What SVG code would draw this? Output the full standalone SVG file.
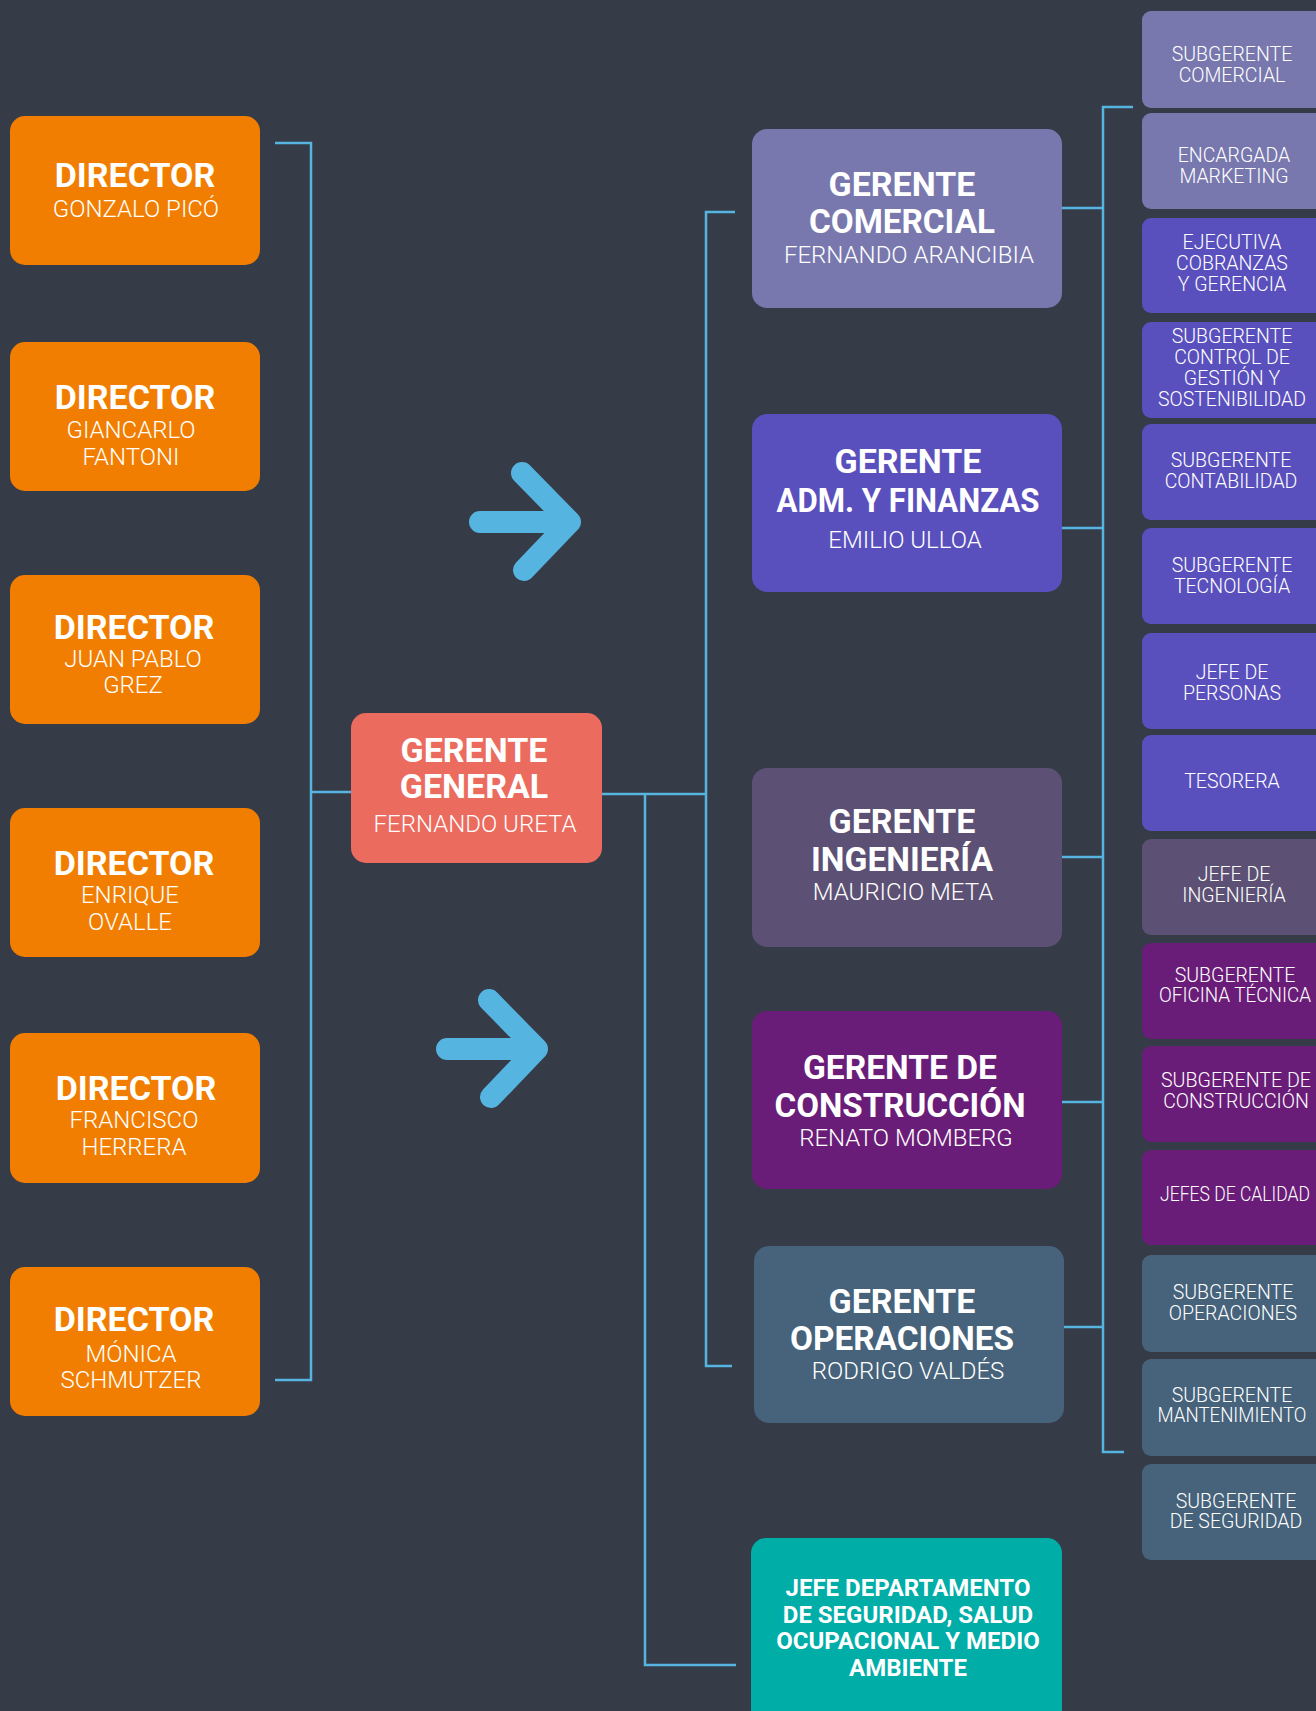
<svg xmlns="http://www.w3.org/2000/svg" width="1316" height="1711" viewBox="0 0 1316 1711">
<style>
.bg{fill:#353b47}
.dir{fill:#f17e00}
.t{fill:#fff;font-family:Roboto,"Liberation Sans",sans-serif;text-anchor:middle}
.b35{font-size:34px;font-weight:700}
.n24{font-size:24px;font-weight:300}
.s20{font-size:19.5px;font-weight:300}
.b24{font-size:24px;font-weight:700}
.ln{fill:none;stroke:#55b4e0;stroke-width:2.5}
.ar{fill:none;stroke:#55b4e0;stroke-width:22;stroke-linecap:round;stroke-linejoin:round}
.c1{fill:#7878ae}.c2{fill:#5a50bd}.c3{fill:#5c5174}.c4{fill:#6a1d78}.c5{fill:#46637b}
</style>
<rect class="bg" x="0" y="0" width="1316" height="1711"/>

<g id="connectors">
<polyline class="ln" points="275,143 311,143 311,1380 275,1380"/>
<line class="ln" x1="311" y1="792" x2="351" y2="792"/>
<polyline class="ln" points="602,794 706,794"/>
<polyline class="ln" points="735,212 706,212 706,1366 732,1366"/>
<polyline class="ln" points="645,794 645,1665 736,1665"/>
<polyline class="ln" points="1133,107 1103,107 1103,1452 1124,1452"/>
<line class="ln" x1="1062" y1="208" x2="1103" y2="208"/>
<line class="ln" x1="1062" y1="528" x2="1103" y2="528"/>
<line class="ln" x1="1062" y1="857" x2="1103" y2="857"/>
<line class="ln" x1="1062" y1="1102" x2="1103" y2="1102"/>
<line class="ln" x1="1064" y1="1327" x2="1103" y2="1327"/>
</g>

<g id="arrows">
<path class="ar" d="M480,522 L570,522 M522,473 L570,522 L524,570"/>
<path class="ar" d="M447,1049 L537,1049 M489,1000 L537,1049 L491,1097"/>
</g>

<g id="dir1"><rect class="dir" x="10" y="116" width="250" height="149" rx="15"/>
<text class="t b35" x="135" y="187">DIRECTOR</text>
<text class="t n24" x="136" y="217">GONZALO PICÓ</text></g>
<g id="dir2"><rect class="dir" x="10" y="342" width="250" height="149" rx="15"/>
<text class="t b35" x="135" y="409">DIRECTOR</text>
<text class="t n24" x="131" y="438">GIANCARLO</text>
<text class="t n24" x="131" y="465">FANTONI</text></g>
<g id="dir3"><rect class="dir" x="10" y="575" width="250" height="149" rx="15"/>
<text class="t b35" x="134" y="639">DIRECTOR</text>
<text class="t n24" x="133" y="667">JUAN PABLO</text>
<text class="t n24" x="133" y="693">GREZ</text></g>
<g id="dir4"><rect class="dir" x="10" y="808" width="250" height="149" rx="15"/>
<text class="t b35" x="134" y="875">DIRECTOR</text>
<text class="t n24" x="130" y="903">ENRIQUE</text>
<text class="t n24" x="130" y="930">OVALLE</text></g>
<g id="dir5"><rect class="dir" x="10" y="1033" width="250" height="150" rx="15"/>
<text class="t b35" x="136" y="1100">DIRECTOR</text>
<text class="t n24" x="134" y="1128">FRANCISCO</text>
<text class="t n24" x="134" y="1155">HERRERA</text></g>
<g id="dir6"><rect class="dir" x="10" y="1267" width="250" height="149" rx="15"/>
<text class="t b35" x="134" y="1331">DIRECTOR</text>
<text class="t n24" x="131" y="1362">MÓNICA</text>
<text class="t n24" x="131" y="1388">SCHMUTZER</text></g>

<g id="gerente-general"><rect fill="#eb6b5e" x="351" y="713" width="251" height="150" rx="15"/>
<text class="t b35" x="474" y="762">GERENTE</text>
<text class="t b35" x="474" y="798">GENERAL</text>
<text class="t n24" x="475" y="832">FERNANDO URETA</text></g>

<g id="gerente-comercial"><rect class="c1" x="752" y="129" width="310" height="179" rx="15"/>
<text class="t b35" x="902" y="196">GERENTE</text>
<text class="t b35" x="902" y="233" textLength="186" lengthAdjust="spacingAndGlyphs">COMERCIAL</text>
<text class="t n24" x="909" y="263">FERNANDO ARANCIBIA</text></g>
<g id="gerente-adm"><rect class="c2" x="752" y="414" width="310" height="178" rx="15"/>
<text class="t b35" x="908" y="473">GERENTE</text>
<text class="t b35" x="908" y="512" textLength="263" lengthAdjust="spacingAndGlyphs">ADM. Y FINANZAS</text>
<text class="t n24" x="905" y="548">EMILIO ULLOA</text></g>
<g id="gerente-ingenieria"><rect class="c3" x="752" y="768" width="310" height="179" rx="15"/>
<text class="t b35" x="902" y="833">GERENTE</text>
<text class="t b35" x="902" y="871" textLength="182" lengthAdjust="spacingAndGlyphs">INGENIERÍA</text>
<text class="t n24" x="903" y="900">MAURICIO META</text></g>
<g id="gerente-construccion"><rect class="c4" x="752" y="1011" width="310" height="178" rx="15"/>
<text class="t b35" x="900" y="1079" textLength="194" lengthAdjust="spacingAndGlyphs">GERENTE DE</text>
<text class="t b35" x="900" y="1117" textLength="251" lengthAdjust="spacingAndGlyphs">CONSTRUCCIÓN</text>
<text class="t n24" x="906" y="1146">RENATO MOMBERG</text></g>
<g id="gerente-operaciones"><rect class="c5" x="754" y="1246" width="310" height="177" rx="15"/>
<text class="t b35" x="902" y="1313">GERENTE</text>
<text class="t b35" x="902" y="1350" textLength="224" lengthAdjust="spacingAndGlyphs">OPERACIONES</text>
<text class="t n24" x="908" y="1379">RODRIGO VALDÉS</text></g>
<g id="jefe-seguridad"><rect fill="#00ada7" x="751" y="1538" width="311" height="190" rx="15"/>
<text class="t b24" x="908" y="1596">JEFE DEPARTAMENTO</text>
<text class="t b24" x="908" y="1623">DE SEGURIDAD, SALUD</text>
<text class="t b24" x="908" y="1649">OCUPACIONAL Y MEDIO</text>
<text class="t b24" x="908" y="1676">AMBIENTE</text></g>

<g id="sub1"><rect class="c1" x="1142" y="11" width="190" height="97" rx="9"/>
<text class="t s20" x="1232" y="61">SUBGERENTE</text><text class="t s20" x="1232" y="82">COMERCIAL</text></g>
<g id="sub2"><rect class="c1" x="1142" y="113" width="190" height="96" rx="9"/>
<text class="t s20" x="1234" y="162">ENCARGADA</text><text class="t s20" x="1234" y="183">MARKETING</text></g>
<g id="sub3"><rect class="c2" x="1142" y="218" width="190" height="95" rx="9"/>
<text class="t s20" x="1232" y="249">EJECUTIVA</text><text class="t s20" x="1232" y="270">COBRANZAS</text><text class="t s20" x="1232" y="291">Y GERENCIA</text></g>
<g id="sub4"><rect class="c2" x="1142" y="322" width="190" height="96" rx="9"/>
<text class="t s20" x="1232" y="343">SUBGERENTE</text><text class="t s20" x="1232" y="364">CONTROL DE</text><text class="t s20" x="1232" y="385">GESTIÓN Y</text><text class="t s20" x="1232" y="406" textLength="148" lengthAdjust="spacingAndGlyphs">SOSTENIBILIDAD</text></g>
<g id="sub5"><rect class="c2" x="1142" y="424" width="190" height="96" rx="9"/>
<text class="t s20" x="1231" y="467">SUBGERENTE</text><text class="t s20" x="1231" y="488">CONTABILIDAD</text></g>
<g id="sub6"><rect class="c2" x="1142" y="528" width="190" height="96" rx="9"/>
<text class="t s20" x="1232" y="572">SUBGERENTE</text><text class="t s20" x="1232" y="593">TECNOLOGÍA</text></g>
<g id="sub7"><rect class="c2" x="1142" y="633" width="190" height="96" rx="9"/>
<text class="t s20" x="1232" y="679">JEFE DE</text><text class="t s20" x="1232" y="700">PERSONAS</text></g>
<g id="sub8"><rect class="c2" x="1142" y="735" width="190" height="96" rx="9"/>
<text class="t s20" x="1232" y="788">TESORERA</text></g>
<g id="sub9"><rect class="c3" x="1142" y="839" width="190" height="96" rx="9"/>
<text class="t s20" x="1234" y="881">JEFE DE</text><text class="t s20" x="1234" y="902">INGENIERÍA</text></g>
<g id="sub10"><rect class="c4" x="1142" y="943" width="190" height="96" rx="9"/>
<text class="t s20" x="1235" y="982">SUBGERENTE</text><text class="t s20" x="1235" y="1002" textLength="152" lengthAdjust="spacingAndGlyphs">OFICINA TÉCNICA</text></g>
<g id="sub11"><rect class="c4" x="1142" y="1046" width="190" height="96" rx="9"/>
<text class="t s20" x="1236" y="1087" textLength="150" lengthAdjust="spacingAndGlyphs">SUBGERENTE DE</text><text class="t s20" x="1236" y="1108">CONSTRUCCIÓN</text></g>
<g id="sub12"><rect class="c4" x="1142" y="1150" width="190" height="95" rx="9"/>
<text class="t s20" x="1235" y="1201" textLength="150" lengthAdjust="spacingAndGlyphs">JEFES DE CALIDAD</text></g>
<g id="sub13"><rect class="c5" x="1142" y="1255" width="190" height="97" rx="9"/>
<text class="t s20" x="1233" y="1299">SUBGERENTE</text><text class="t s20" x="1233" y="1320">OPERACIONES</text></g>
<g id="sub14"><rect class="c5" x="1142" y="1359" width="190" height="97" rx="9"/>
<text class="t s20" x="1232" y="1402">SUBGERENTE</text><text class="t s20" x="1232" y="1422" textLength="149" lengthAdjust="spacingAndGlyphs">MANTENIMIENTO</text></g>
<g id="sub15"><rect class="c5" x="1142" y="1464" width="190" height="96" rx="9"/>
<text class="t s20" x="1236" y="1508">SUBGERENTE</text><text class="t s20" x="1236" y="1528">DE SEGURIDAD</text></g>
</svg>
